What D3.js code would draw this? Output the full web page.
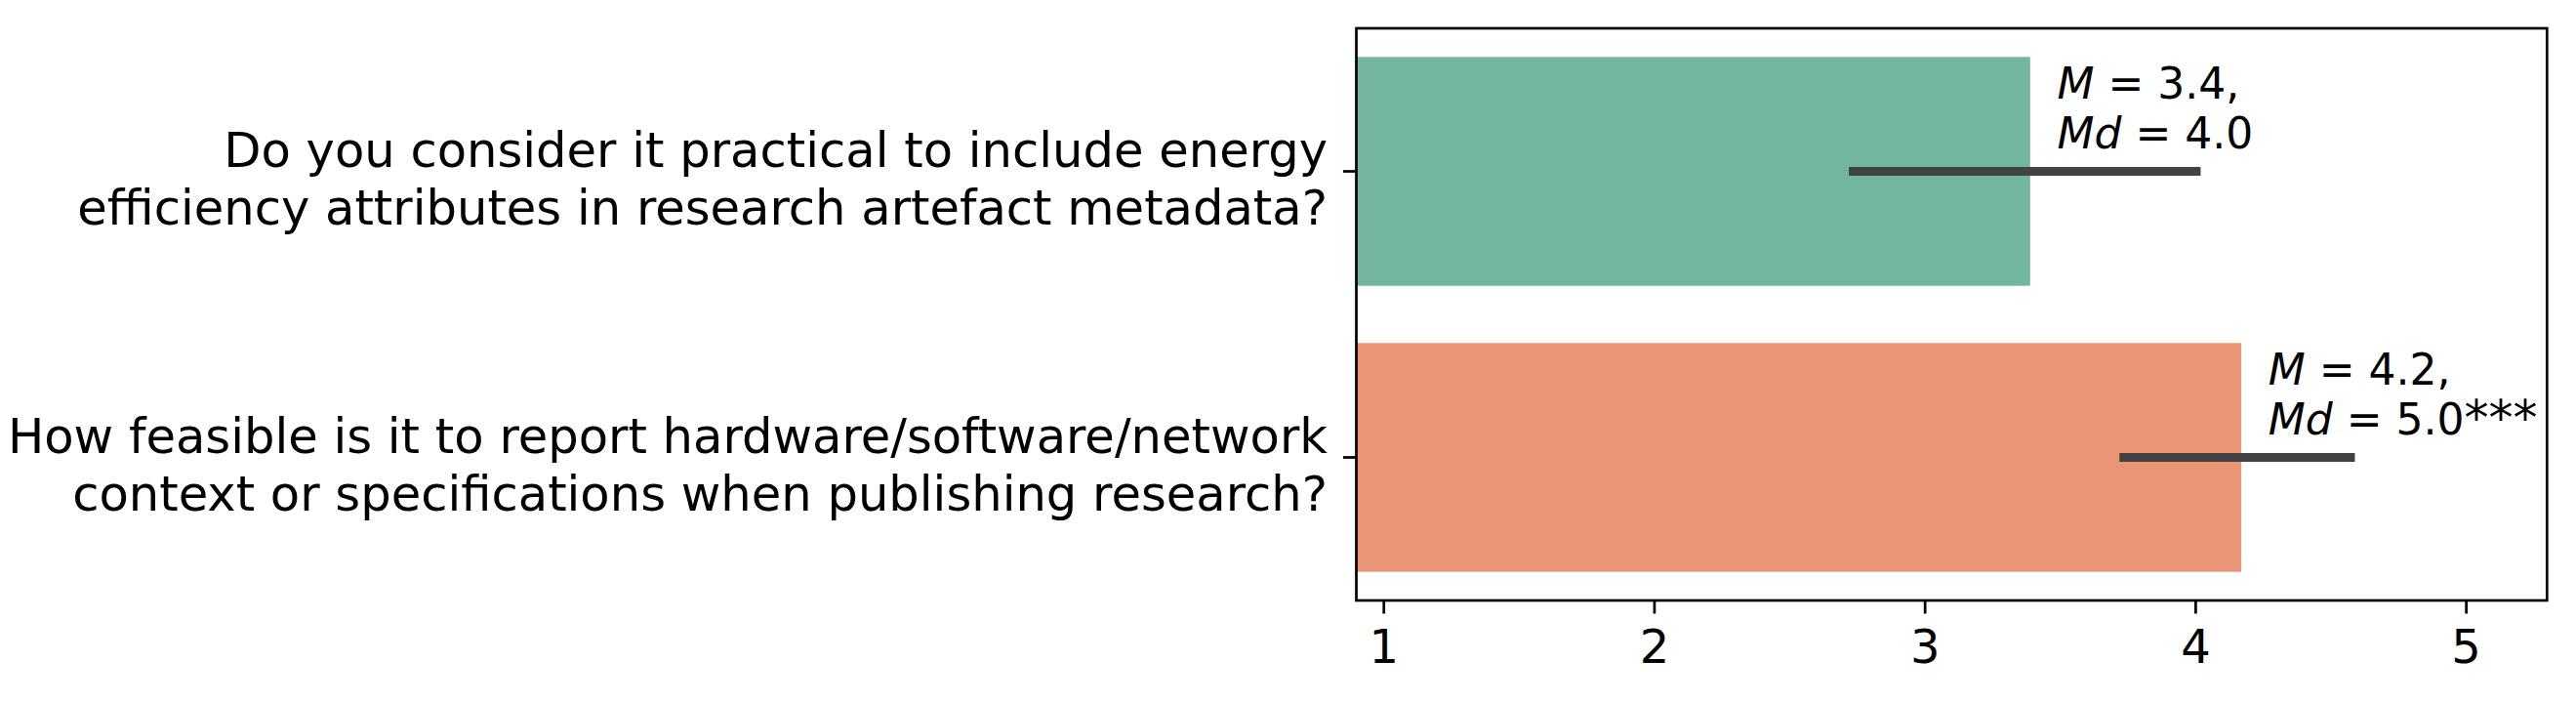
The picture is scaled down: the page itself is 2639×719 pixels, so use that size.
<!DOCTYPE html>
<html>
<head>
<meta charset="utf-8">
<script src="https://cdn.jsdelivr.net/npm/d3@7"></script>
<style>
  body { margin: 0; background: #fff; }
  svg { display: block; font-family: "DejaVu Sans", sans-serif; }
</style>
</head>
<body>
<div id="chart"></div>
<script>
const questions = [
    ["Do you consider it practical to include energy", "efficiency attributes in research artefact metadata?"],
    ["How feasible is it to report hardware/software/network", "context or specifications when publishing research?"]
];
const means = [3.39, 4.17];
const errLow = [2.72, 3.72];
const errHigh = [4.02, 4.59];
const meanLabels = ["3.4", "4.2"];
const medianLabels = ["4.0", "5.0"];
const significance = ["", "***"];
const barColors = ["#72b6a1", "#e99576"];
const xTicks = [1, 2, 3, 4, 5];

const width = 2639;
const height = 719;
const plot = { left: 1389.5, right: 2609.3, top: 29, bottom: 615 };

const data = questions.map((q, i) => ({
    id: i,
    lines: q,
    mean: means[i],
    lo: errLow[i],
    hi: errHigh[i],
    m: meanLabels[i],
    md: medianLabels[i],
    sig: significance[i]
}));

const svg = d3.select("#chart").append("svg")
    .attr("width", width)
    .attr("height", height);

const x = d3.scaleLinear()
    .domain([0.9, 5.3])
    .range([plot.left, plot.right]);

const y = d3.scaleBand()
    .domain(data.map(d => d.id))
    .range([plot.top, plot.bottom])
    .paddingInner(0.2)
    .paddingOuter(0.1);

// bars (start at 0, clipped by axes edge)
svg.selectAll(".bar")
    .data(data)
    .enter().append("rect")
    .attr("class", "bar")
    .attr("x", x(0.9))
    .attr("y", d => y(d.id))
    .attr("width", d => x(d.mean) - x(0.9))
    .attr("height", y.bandwidth())
    .attr("fill", (d, i) => barColors[i]);

// error bars
svg.selectAll(".err")
    .data(data)
    .enter().append("line")
    .attr("class", "err")
    .attr("x1", d => x(d.lo))
    .attr("x2", d => x(d.hi))
    .attr("y1", d => y(d.id) + y.bandwidth() / 2)
    .attr("y2", d => y(d.id) + y.bandwidth() / 2)
    .attr("stroke", "#424242")
    .attr("stroke-width", 9);

// annotations
const ann = svg.selectAll(".ann")
    .data(data)
    .enter().append("text")
    .attr("class", "ann")
    .attr("font-size", 44)
    .attr("fill", "#000");

ann.append("tspan")
    .attr("x", d => x(d.mean + 0.1))
    .attr("y", d => y(d.id) + y.bandwidth() / 2 - 75)
    .attr("font-style", "italic")
    .text("M");
ann.append("tspan")
    .text(d => ` = ${d.m},`);
ann.append("tspan")
    .attr("x", d => x(d.mean + 0.1))
    .attr("y", d => y(d.id) + y.bandwidth() / 2 - 24)
    .attr("font-style", "italic")
    .text("Md");
ann.append("tspan")
    .text(d => ` = ${d.md}`);
ann.append("tspan")
    .attr("font-size", 50)
    .text(d => d.sig);

// x axis
const xAxis = svg.append("g")
    .attr("transform", `translate(0,${plot.bottom})`)
    .call(d3.axisBottom(x).tickValues(xTicks).tickSize(13.5).tickPadding(16.5).tickFormat(d3.format("d")));
xAxis.select(".domain").remove();
xAxis.selectAll(".tick line").attr("stroke", "#000").attr("stroke-width", 2.7);
xAxis.selectAll(".tick text")
    .attr("font-size", 48)
    .attr("font-family", "DejaVu Sans")
    .attr("fill", "#000");

// y axis
const yAxis = svg.append("g")
    .attr("transform", `translate(${plot.left},0)`)
    .call(d3.axisLeft(y).tickSize(13.5).tickFormat(""));
yAxis.select(".domain").remove();
yAxis.selectAll(".tick line").attr("stroke", "#000").attr("stroke-width", 2.7);

svg.selectAll(".qlabel")
    .data(data)
    .enter().append("text")
    .attr("class", "qlabel")
    .attr("text-anchor", "end")
    .attr("font-size", 49.6)
    .attr("fill", "#000")
    .selectAll("tspan")
    .data(d => d.lines.map((t, j) => ({ t, j, c: y(d.id) + y.bandwidth() / 2 })))
    .enter().append("tspan")
    .attr("x", 1360)
    .attr("y", d => d.c - 5 + d.j * 59)
    .text(d => d.t);

// frame
svg.append("rect")
    .attr("x", plot.left)
    .attr("y", plot.top)
    .attr("width", plot.right - plot.left)
    .attr("height", plot.bottom - plot.top)
    .attr("fill", "none")
    .attr("stroke", "#000")
    .attr("stroke-width", 2.7);
</script>
</body>
</html>
